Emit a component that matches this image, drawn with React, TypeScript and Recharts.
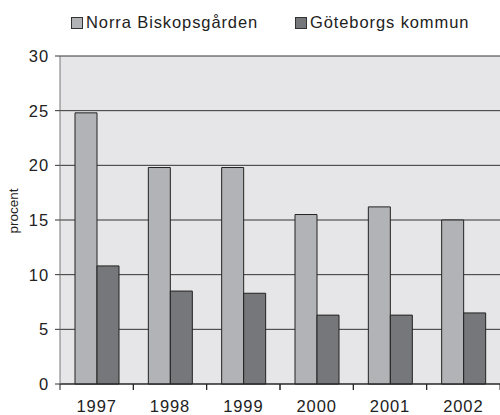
import { BarChart, Bar, XAxis, YAxis, CartesianGrid } from 'recharts';

// =============================================================================
// Data
// =============================================================================

const YEARS = ['1997', '1998', '1999', '2000', '2001', '2002'];
const NORRA_BISKOPSGARDEN = [24.8, 19.8, 19.8, 15.5, 16.2, 15.0];
const GOTEBORGS_KOMMUN = [10.8, 8.5, 8.3, 6.3, 6.3, 6.5];
const Y_TICKS = [0, 5, 10, 15, 20, 25, 30];

const SERIES = [
  { key: 'norra', name: 'Norra Biskopsgården', color: '#b2b3b6' },
  { key: 'goteborg', name: 'Göteborgs kommun', color: '#76777a' },
];

const chartData = YEARS.map((year, i) => ({
  year,
  norra: NORRA_BISKOPSGARDEN[i],
  goteborg: GOTEBORGS_KOMMUN[i],
}));

const FONT = '"Liberation Sans", Arial, sans-serif';
const FONT_SIZE = 16.5;
const SPACING = 0.9;
const TICK_SIZE = 6;
const TICK_MARGIN = 10;

// =============================================================================
// Pieces
// =============================================================================

// Excel-style category ticks: marks sit between categories, label in the middle
function YearTick(props: any) {
  const { x, y, payload } = props;
  const half = payload?.offset ?? 0;
  const axisY = y - TICK_SIZE - TICK_MARGIN;
  return (
    <g>
      <line x1={x - half} x2={x - half} y1={axisY} y2={axisY + TICK_SIZE} stroke="#222" />
      <line x1={x + half} x2={x + half} y1={axisY} y2={axisY + TICK_SIZE} stroke="#222" />
      <text
        x={x}
        y={y}
        dy="0.71em"
        textAnchor="middle"
        fill="#222"
        fontSize={FONT_SIZE}
        fontFamily={FONT}
        letterSpacing={SPACING}
      >
        {payload.value}
      </text>
    </g>
  );
}

function ChartLegend() {
  const items = [
    { ...SERIES[0], left: 71 },
    { ...SERIES[1], left: 295 },
  ];
  return (
    <>
      {items.map((s) => (
        <div
          key={s.key}
          style={{
            position: 'absolute',
            left: s.left,
            top: 13,
            display: 'flex',
            alignItems: 'center',
            fontFamily: FONT,
            fontSize: FONT_SIZE,
            letterSpacing: SPACING,
            color: '#222',
            whiteSpace: 'nowrap',
          }}
        >
          <span
            style={{
              display: 'inline-block',
              width: 10,
              height: 10,
              background: s.color,
              border: '1px solid #333',
              marginRight: 3,
            }}
          />
          {s.name}
        </div>
      ))}
    </>
  );
}

// =============================================================================
// Component
// =============================================================================

export default function App() {
  return (
    <div style={{ position: 'relative', width: 500, height: 415, background: '#fff' }}>
      <style>{'body{margin:0}'}</style>
      <ChartLegend />
      <BarChart
        width={500}
        height={415}
        data={chartData}
        margin={{ top: 56, right: 0, bottom: 0, left: 0 }}
        barSize={22}
        barGap={0}
      >
        <CartesianGrid vertical={false} stroke="#333" fill="#e6e6e8" />
        <XAxis
          dataKey="year"
          height={31}
          axisLine={{ stroke: '#222' }}
          tickLine={false}
          tickSize={TICK_SIZE}
          tickMargin={TICK_MARGIN}
          tick={<YearTick />}
          interval={0}
        />
        <YAxis
          width={60}
          domain={[0, 30]}
          ticks={Y_TICKS}
          interval={0}
          axisLine={{ stroke: '#777' }}
          tickLine={{ stroke: '#333' }}
          tickSize={5}
          tickMargin={6}
          tick={{ fill: '#222', fontSize: FONT_SIZE, fontFamily: FONT, letterSpacing: SPACING }}
          label={{
            content: (p: any) => {
              const vx = (p.viewBox?.x ?? 0) + 13;
              const vy = 211;
              return (
                <text
                  x={vx}
                  y={vy}
                  transform={`rotate(-90, ${vx}, ${vy})`}
                  textAnchor="middle"
                  dominantBaseline="central"
                  fill="#222"
                  fontSize={13.5}
                  fontFamily={FONT}
                >
                  procent
                </text>
              );
            },
          }}
        />
        {SERIES.map((s) => (
          <Bar
            key={s.key}
            dataKey={s.key}
            name={s.name}
            fill={s.color}
            stroke="#222"
            strokeWidth={1}
            isAnimationActive={false}
          />
        ))}
      </BarChart>
    </div>
  );
}
